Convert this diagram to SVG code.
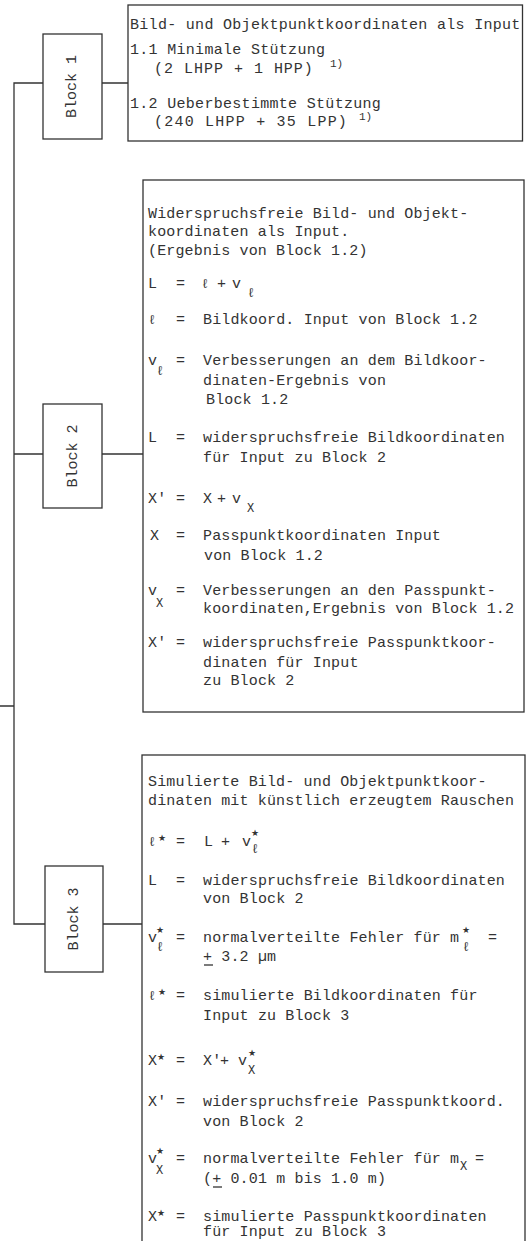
<svg xmlns="http://www.w3.org/2000/svg" width="528" height="1241" viewBox="0 0 528 1241">
<style>
.t{font-family:"Liberation Mono","DejaVu Sans Mono",monospace;font-size:15px;fill:#333;letter-spacing:0.15px}
.t1{letter-spacing:0.3px}
.l{font-family:"DejaVu Sans Mono","Liberation Mono",monospace;font-size:13px;fill:#333}
.s{font-family:"Liberation Mono","DejaVu Sans Mono",monospace;font-size:12px;fill:#333}
.st{font-family:"DejaVu Sans",sans-serif;font-size:9px;fill:#333}
.sup{font-family:"Liberation Mono",monospace;font-size:11px;fill:#333}
.box{fill:#fff;stroke:#333;stroke-width:1.3}
.c{fill:none;stroke:#333;stroke-width:1.3}
.lbl{font-family:"Liberation Mono","DejaVu Sans Mono",monospace;font-size:15px;fill:#333;text-anchor:middle}
</style>
<g id="connectors">
<path class="c" d="M43 83H14V924H45M102 83H128M14 454H43M102 454H143M103 924H142M0 706H14"/>
</g>
<g id="block1">
<rect class="box" x="43" y="34" width="59" height="105"/>
<text class="lbl" transform="translate(76,86.5) rotate(-90)">Block 1</text>
</g>
<g id="block1-content">
<rect class="box" x="128" y="5" width="394.5" height="136"/>
<text class="t t1" x="130" y="29">Bild- und Objektpunktkoordinaten als Input</text>
<text class="t t1" x="130" y="54">1.1 Minimale Stützung</text>
<text class="t" x="154" y="73" textLength="159" lengthAdjust="spacing">(2 LHPP + 1 HPP)</text>
<text class="sup" x="330" y="67">1)</text>
<text class="t t1" x="130" y="108">1.2 Ueberbestimmte Stützung</text>
<text class="t" x="154" y="126" textLength="193" lengthAdjust="spacing">(240 LHPP + 35 LPP)</text>
<text class="sup" x="359" y="120">1)</text>
</g>
<g id="block2">
<rect class="box" x="43" y="404" width="59" height="104"/>
<text class="lbl" transform="translate(77,456) rotate(-90)">Block 2</text>
</g>
<g id="block2-content">
<rect class="box" x="143" y="180" width="381" height="532"/>
<text class="t" x="148" y="218">Widerspruchsfreie Bild- und Objekt-</text>
<text class="t" x="148" y="236">koordinaten als Input.</text>
<text class="t" x="148" y="255">(Ergebnis von Block 1.2)</text>
<text class="t" x="148" y="288">L</text><text class="t" x="176" y="288">=</text>
<text class="l" x="201" y="288">ℓ</text><text class="t" x="217" y="288">+</text><text class="t" x="232" y="288">v</text><text class="l" x="247" y="297">ℓ</text>
<text class="l" x="148" y="324">ℓ</text><text class="t" x="176" y="324">=</text><text class="t" x="203" y="324">Bildkoord. Input von Block 1.2</text>
<text class="t" x="148" y="365">v</text><text class="l" x="156" y="375">ℓ</text><text class="t" x="176" y="365">=</text><text class="t" x="203" y="365">Verbesserungen an dem Bildkoor-</text>
<text class="t" x="203" y="385">dinaten-Ergebnis von</text>
<text class="t" x="206" y="404">Block 1.2</text>
<text class="t" x="148" y="442">L</text><text class="t" x="176" y="442">=</text><text class="t" x="203" y="442">widerspruchsfreie Bildkoordinaten</text>
<text class="t" x="203" y="462">für Input zu Block 2</text>
<text class="t" x="148" y="503">X'</text><text class="t" x="176" y="503">=</text>
<text class="t" x="203" y="503">X</text><text class="t" x="217" y="503">+</text><text class="t" x="232" y="503">v</text><text class="s" x="247" y="512">X</text>
<text class="t" x="150" y="540">X</text><text class="t" x="176" y="540">=</text><text class="t" x="203" y="540">Passpunktkoordinaten  Input</text>
<text class="t" x="204" y="560">von Block 1.2</text>
<text class="t" x="148" y="595">v</text><text class="s" x="156" y="607">X</text><text class="t" x="176" y="595">=</text><text class="t" x="203" y="595">Verbesserungen an den Passpunkt-</text>
<text class="t" x="203" y="613">koordinaten,Ergebnis von Block 1.2</text>
<text class="t" x="148" y="647">X'</text><text class="t" x="176" y="647">=</text><text class="t" x="203" y="647">widerspruchsfreie Passpunktkoor-</text>
<text class="t" x="203" y="667">dinaten für Input</text>
<text class="t" x="203" y="685">zu Block 2</text>
</g>
<g id="block3">
<rect class="box" x="45" y="866" width="58" height="106"/>
<text class="lbl" transform="translate(78,919) rotate(-90)">Block 3</text>
</g>
<g id="block3-content">
<rect class="box" x="142" y="755" width="383" height="500"/>
<text class="t" x="148" y="786">Simulierte Bild- und Objektpunktkoor-</text>
<text class="t" x="148" y="805">dinaten mit künstlich erzeugtem Rauschen</text>
<text class="l" x="148" y="846">ℓ</text><text class="st" x="158" y="841">★</text><text class="t" x="176" y="846">=</text>
<text class="t" x="204" y="846">L</text><text class="t" x="221" y="846">+</text><text class="t" x="242" y="846">v</text><text class="st" x="251" y="836">★</text><text class="l" x="251" y="853">ℓ</text>
<text class="t" x="148" y="885">L</text><text class="t" x="176" y="885">=</text><text class="t" x="203" y="885">widerspruchsfreie Bildkoordinaten</text>
<text class="t" x="203" y="903">von Block 2</text>
<text class="t" x="148" y="942">v</text><text class="st" x="156" y="933">★</text><text class="l" x="156" y="951">ℓ</text><text class="t" x="176" y="942">=</text>
<text class="t" x="203" y="942">normalverteilte Fehler für m</text><text class="st" x="462" y="933">★</text><text class="l" x="462" y="951">ℓ</text><text class="t" x="488" y="942">=</text>
<text class="t" x="203" y="961">+ 3.2 µm</text>
<path class="c" d="M204 965H213" stroke-width="1.1"/>
<text class="l" x="148" y="1000">ℓ</text><text class="st" x="158" y="995">★</text><text class="t" x="176" y="1000">=</text><text class="t" x="203" y="1000">simulierte Bildkoordinaten für</text>
<text class="t" x="203" y="1020">Input zu Block 3</text>
<text class="t" x="148" y="1065">X</text><text class="st" x="157" y="1060">★</text><text class="t" x="176" y="1065">=</text>
<text class="t" x="203" y="1065">X'</text><text class="t" x="220" y="1065">+</text><text class="t" x="238" y="1065">v</text><text class="st" x="248" y="1056">★</text><text class="s" x="248" y="1074">X</text>
<text class="t" x="148" y="1106">X'</text><text class="t" x="176" y="1106">=</text><text class="t" x="203" y="1106">widerspruchsfreie Passpunktkoord.</text>
<text class="t" x="203" y="1126">von Block 2</text>
<text class="t" x="148" y="1163">v</text><text class="st" x="156" y="1154">★</text><text class="s" x="156" y="1174">X</text><text class="t" x="176" y="1163">=</text>
<text class="t" x="203" y="1163">normalverteilte Fehler für m</text><text class="s" x="460" y="1170">X</text><text class="t" x="475" y="1163">=</text>
<text class="t" x="203" y="1183">(+ 0.01 m bis 1.0 m)</text>
<path class="c" d="M213 1187H222" stroke-width="1.1"/>
<text class="t" x="148" y="1221">X</text><text class="st" x="157" y="1216">★</text><text class="t" x="176" y="1221">=</text><text class="t" x="203" y="1221">simulierte Passpunktkoordinaten</text>
<text class="t" x="203" y="1236">für Input zu  Block 3</text>
</g>
</svg>
